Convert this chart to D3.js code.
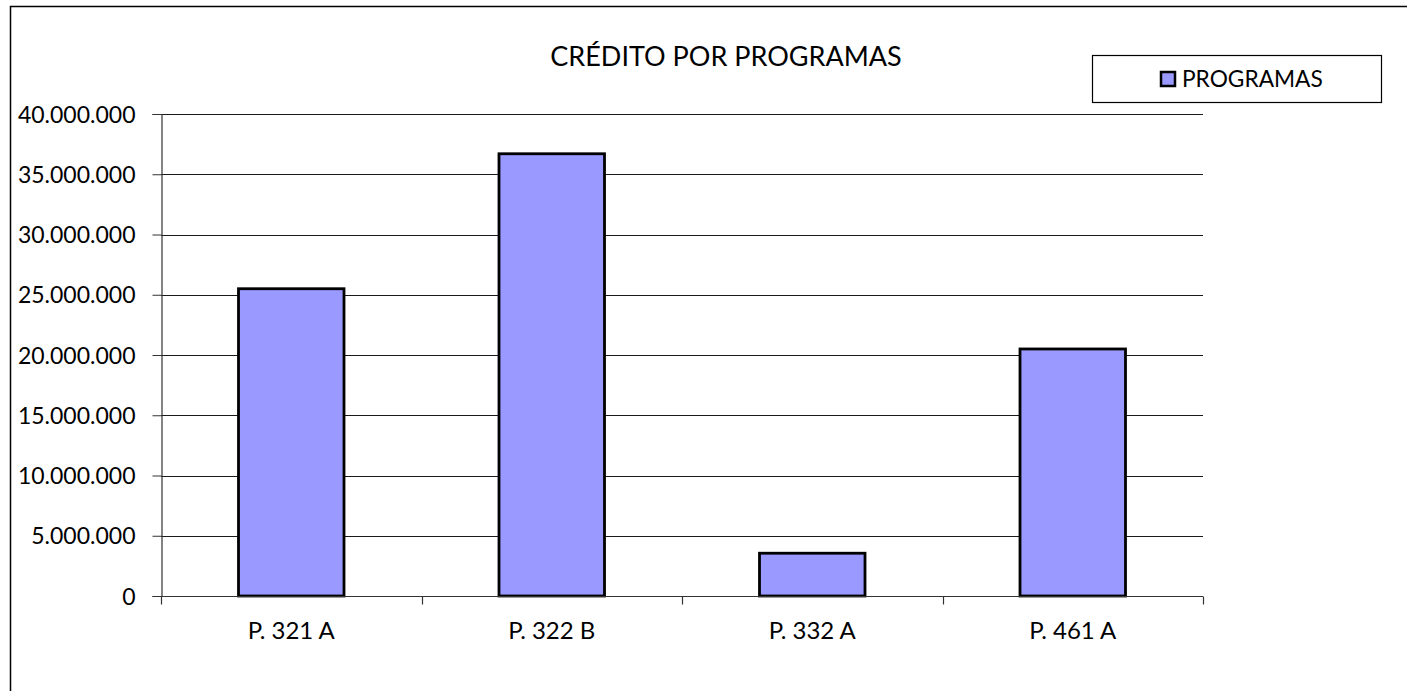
<!DOCTYPE html>
<html><head><meta charset="utf-8">
<script src="https://cdn.jsdelivr.net/npm/d3@7"></script>
<style>body{margin:0;background:#fff}svg{display:block}text{font-family:Lato,"Open Sans",sans-serif;fill:#000}</style>
</head><body>
<svg id="c" width="1407" height="691"></svg>
<script>
const categories = ["P. 321 A", "P. 322 B", "P. 332 A", "P. 461 A"];
const values = [25500000, 36700000, 3550000, 20500000];
const yTicks = [0, 5000000, 10000000, 15000000, 20000000, 25000000, 30000000, 35000000, 40000000];
const seriesName = "PROGRAMAS";
const chartTitle = "CRÉDITO POR PROGRAMAS";

(function(){
const svg = d3.select("#c");
const fill = "#9999FF";
svg.append("rect").attr("x",10.5).attr("y",6.5).attr("width",1420).attr("height",700)
  .attr("fill","none").attr("stroke","#000").attr("stroke-width",1.5);

const pL=161, pR=1203, pT=114, pB=596;
const x = d3.scaleBand().domain(categories).range([pL,pR]).paddingInner(0.595).paddingOuter(0.2975);
const y = d3.scaleLinear().domain([0,40000000]).range([pB,pT]);
const fmt = v => d3.format(",")(v).replace(/,/g,".");

svg.append("g").selectAll("line").data(yTicks.filter(d=>d>0)).join("line")
  .attr("x1",pL).attr("x2",pR).attr("y1",d=>Math.round(y(d))+0.5).attr("y2",d=>Math.round(y(d))+0.5)
  .attr("stroke","#1a1a1a").attr("stroke-width",1);

svg.append("g").selectAll("rect").data(values).join("rect")
  .attr("x",(d,i)=>x(categories[i])).attr("width",x.bandwidth())
  .attr("y",d=>y(d)).attr("height",d=>pB-y(d))
  .attr("fill",fill).attr("stroke","#000").attr("stroke-width",2.8);

const ya = svg.append("g").attr("transform",`translate(${pL+0.5},0)`)
  .call(d3.axisLeft(y).tickValues(yTicks).tickFormat(fmt).tickSize(9).tickPadding(17));
ya.select(".domain").attr("stroke","#333").attr("stroke-width",1.2);
ya.selectAll(".tick line").attr("stroke","#333");
ya.selectAll(".tick text").style("font-size","23px").style("font-family","Lato").attr("dy","0.35em");

const xb = d3.scaleLinear().domain([0,categories.length]).range([pL,pR]);
const xa = svg.append("g").attr("transform",`translate(0,${pB+0.5})`);
xa.append("line").attr("x1",pL).attr("x2",pR).attr("stroke","#333").attr("stroke-width",1.2);
xa.selectAll("line.t").data(d3.range(categories.length+1)).join("line").attr("class","t")
  .attr("x1",d=>Math.round(xb(d))+0.5).attr("x2",d=>Math.round(xb(d))+0.5).attr("y1",0).attr("y2",8)
  .attr("stroke","#333").attr("stroke-width",1.2);
xa.selectAll("text").data(categories).join("text")
  .attr("x",d=>x(d)+x.bandwidth()/2).attr("y",42).attr("text-anchor","middle")
  .style("font-size","24px").text(d=>d);

svg.append("text").attr("x",726).attr("y",66).attr("text-anchor","middle")
  .style("font-size","27px").text(chartTitle);

svg.append("rect").attr("x",1092.5).attr("y",55.5).attr("width",289).attr("height",47)
  .attr("fill","#fff").attr("stroke","#000").attr("stroke-width",1.2);
svg.append("rect").attr("x",1161).attr("y",72).attr("width",14).attr("height",14)
  .attr("fill",fill).attr("stroke","#000").attr("stroke-width",2.5);
svg.append("text").attr("x",1182).attr("y",87).style("font-size","22.7px").text(seriesName);
})();
</script>
</body></html>
